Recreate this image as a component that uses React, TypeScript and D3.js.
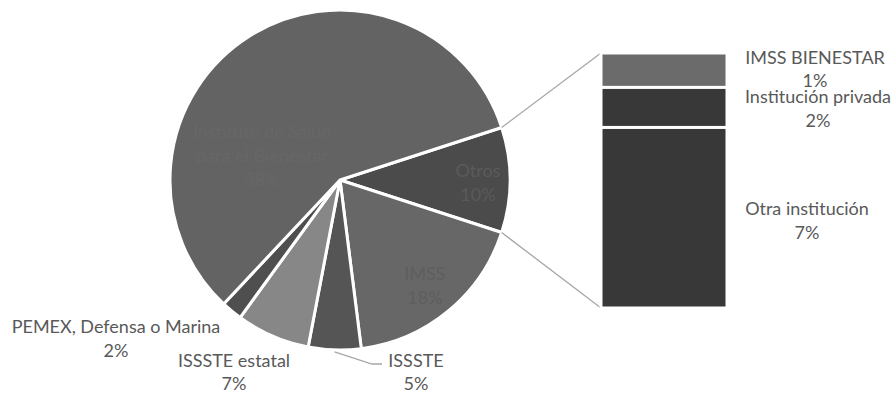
import React from "react";
import * as d3 from "d3";

// Main pie data (percent)
const pieLabels = ["Otros", "IMSS", "ISSSTE", "ISSSTE estatal", "PEMEX, Defensa o Marina", "Instituto de Salud para el Bienestar"];
const pieValues = [10, 18, 5, 7, 2, 58];
const pieColors = ["#4b4b4b", "#676767", "#555555", "#878787", "#4f4f4f", "#636363"];

// Secondary bar ("Otros" breakdown)
const barLabels = ["IMSS BIENESTAR", "Institución privada", "Otra institución"];
const barValues = [1.35, 1.57, 7.08];
const barPctText = ["1%", "2%", "7%"];
const barColors = ["#6b6b6b", "#383838", "#383838"];

const W = 896;
const H = 393;
const FONT = "Lato, 'Open Sans', sans-serif";

export default function App() {
  const cx = 340;
  const cy = 180;
  const r = 170;
  const start = (72 * Math.PI) / 180;

  const pie = d3
    .pie<number>()
    .sort(null)
    .value((d) => d)
    .startAngle(start)
    .endAngle(start + 2 * Math.PI);
  const arcs = pie(pieValues);
  const arc = d3.arc<d3.PieArcDatum<number>>().innerRadius(0).outerRadius(r);

  // bar
  const barX = 601;
  const barW = 126;
  const total = d3.sum(barValues);
  const y = d3.scaleLinear().domain([0, total]).range([53, 308]);
  const cum = barValues.map((_, i) => d3.sum(barValues.slice(0, i)));

  // connector points at edges of Otros slice
  const o = arcs[0];
  const pt = (a: number, rr: number) => [cx + rr * Math.sin(a), cy - rr * Math.cos(a)];
  const [tx, ty] = pt(o.startAngle, r);
  const [bx, by] = pt(o.endAngle, r);

  const labelColor = "#595959";
  const fs = 18;

  // leader line for ISSSTE
  const iss = arcs[2];
  const [lx, ly] = pt((iss.startAngle + iss.endAngle) / 2, r + 2);

  const textLines = (
    x: number,
    yb: number,
    lines: string[],
    fill: string,
    key: string,
    gap = 24
  ) => (
    <text key={key} x={x} y={yb} textAnchor="middle" fill={fill} fontFamily={FONT} fontSize={fs}>
      {lines.map((l, i) => (
        <tspan key={i} x={x} dy={i === 0 ? 0 : gap}>
          {l}
        </tspan>
      ))}
    </text>
  );

  return (
    <svg
      width={W}
      height={H}
      style={{ position: "absolute", left: 0, top: 0, background: "#fff" }}
    >
      <g transform={`translate(${cx},${cy})`}>
        {arcs.map((a, i) => (
          <path key={i} d={arc(a) || ""} fill={pieColors[i]} stroke="#fff" strokeWidth={3} strokeLinejoin="round" />
        ))}
      </g>

      {/* connector lines */}
      <line x1={tx} y1={ty} x2={barX} y2={y(0)} stroke="#a6a6a6" strokeWidth={1.3} />
      <line x1={bx} y1={by} x2={barX} y2={y(total)} stroke="#a6a6a6" strokeWidth={1.3} />

      {/* bar segments */}
      {barValues.map((v, i) => (
        <rect
          key={i}
          x={barX}
          y={y(cum[i])}
          width={barW}
          height={y(cum[i] + v) - y(cum[i])}
          fill={barColors[i]}
          stroke="#fff"
          strokeWidth={3}
        />
      ))}

      {/* ISSSTE leader */}
      <polyline
        points={`${lx},${ly} 372,364 382,364`}
        fill="none"
        stroke="#a6a6a6"
        strokeWidth={1.3}
      />

      {/* inside labels */}
      {textLines(262, 138, ["Instituto de Salud", "para el Bienestar", `${pieValues[5]}%`], "#676767", "inst")}
      {textLines(478, 177, [pieLabels[0], `${pieValues[0]}%`], "#5a5a5a", "otros")}
      {textLines(425, 280, [pieLabels[1], `${pieValues[1]}%`], "#5e5e5e", "imss")}

      {/* outside labels */}
      {textLines(416, 367, [pieLabels[2], `${pieValues[2]}%`], labelColor, "issste", 23)}
      {textLines(234, 367, [pieLabels[3], `${pieValues[3]}%`], labelColor, "isssteest", 23)}
      {textLines(116, 333, [pieLabels[4], `${pieValues[4]}%`], labelColor, "pemex")}

      {/* bar labels */}
      {textLines(815, 64, [barLabels[0], barPctText[0]], labelColor, "b0", 23)}
      {textLines(818, 103, [barLabels[1], barPctText[1]], labelColor, "b1")}
      {textLines(807, 215, [barLabels[2], barPctText[2]], labelColor, "b2")}
    </svg>
  );
}
